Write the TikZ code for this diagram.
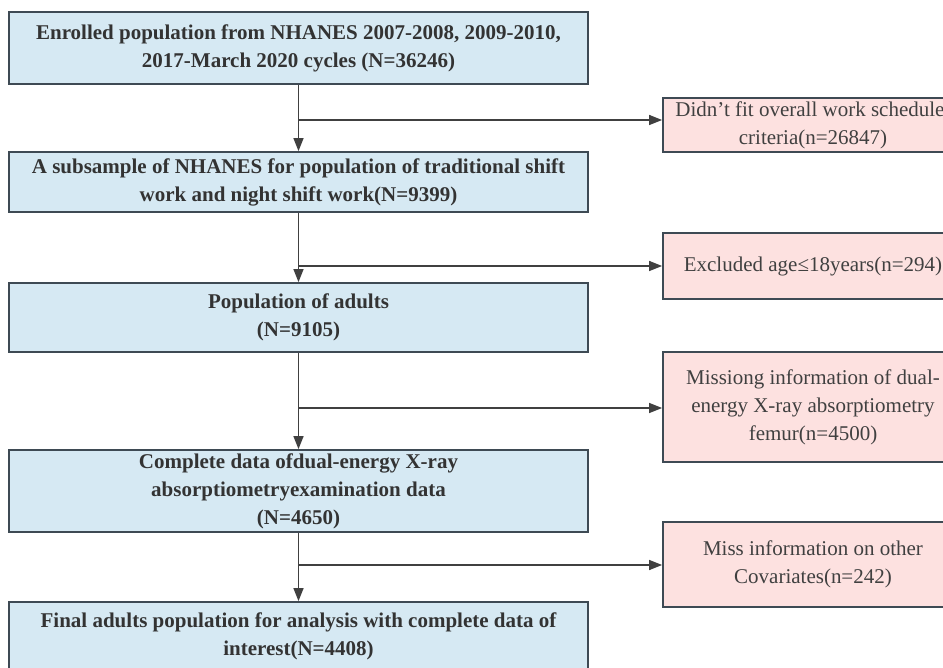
\documentclass[tikz,border=0pt]{standalone}
\usepackage{fontspec}
\setmainfont{Liberation Serif}
\usetikzlibrary{arrows.meta,positioning}
\definecolor{mainfill}{HTML}{D6E9F3}
\definecolor{exclfill}{HTML}{FDE1E0}
\definecolor{boxline}{HTML}{3E4A54}
\definecolor{flowline}{HTML}{404040}

\tikzset{
  mainbox/.style={rectangle, draw=boxline, line width=1.8pt, fill=mainfill, minimum width=579pt, align=center, font=\fontsize{21}{28}\selectfont\bfseries, text=black!80, inner sep=0pt},
  exclbox/.style={rectangle, draw=boxline, line width=1.8pt, fill=exclfill, minimum width=300pt, align=center, font=\fontsize{21}{28}\selectfont, text=black!75, inner sep=0pt},
  flow/.style={draw=flowline, line width=1.5pt, -{Triangle[length=13pt,width=10pt]}}
}

\begin{document}
\begin{tikzpicture}[x=1pt, y=-1pt]
    \useasboundingbox (0,0) rectangle (943,668);

    % Main boxes
    \node[mainbox, minimum height=72pt] (enrolled) at (298.5,48) {Enrolled population from NHANES 2007-2008, 2009-2010,\\2017-March 2020 cycles (N=36246)};
    \node[mainbox, minimum height=60pt] (subsample) at (298.5,182) {A subsample of NHANES for population of traditional shift\\work and night shift work(N=9399)};
    \node[mainbox, minimum height=69pt] (adults) at (298.5,317.5) {Population of adults\\(N=9105)};
    \node[mainbox, minimum height=82pt] (dxa) at (298.5,491) {Complete data ofdual-energy X-ray\\absorptiometryexamination data\\(N=4650)};
    \node[mainbox, minimum height=68pt] (final) at (298.5,636) {Final adults population for analysis with complete data of\\interest(N=4408)};

    % Exclusion boxes
    \node[exclbox, minimum height=54pt] (schedule) at (813,125) {\hspace*{-6pt}Didn't fit overall work schedule\\criteria(n=26847)};
    \node[exclbox, minimum height=66pt] (age) at (813,266) {Excluded age≤18years(n=294)};
    \node[exclbox, minimum height=110pt] (femur) at (813,407) {Missiong information of dual-\\energy X-ray absorptiometry\\femur(n=4500)};
    \node[exclbox, minimum height=85pt] (covar) at (813,564.5) {Miss information on other\\Covariates(n=242)};

    % Branch points
    \coordinate (b1) at (298.5,120);
    \coordinate (b2) at (298.5,266);
    \coordinate (b3) at (298.5,408);
    \coordinate (b4) at (298.5,565);

    % Flows
    \draw[flow] (enrolled) -- (subsample);
    \draw[flow] (subsample) -- (adults);
    \draw[flow] (adults) -- (dxa);
    \draw[flow] (dxa) -- (final);
    \draw[flow] (b1) -- (b1 -| schedule.west);
    \draw[flow] (b2) -- (b2 -| age.west);
    \draw[flow] (b3) -- (b3 -| femur.west);
    \draw[flow] (b4) -- (b4 -| covar.west);
\end{tikzpicture}
\end{document}
